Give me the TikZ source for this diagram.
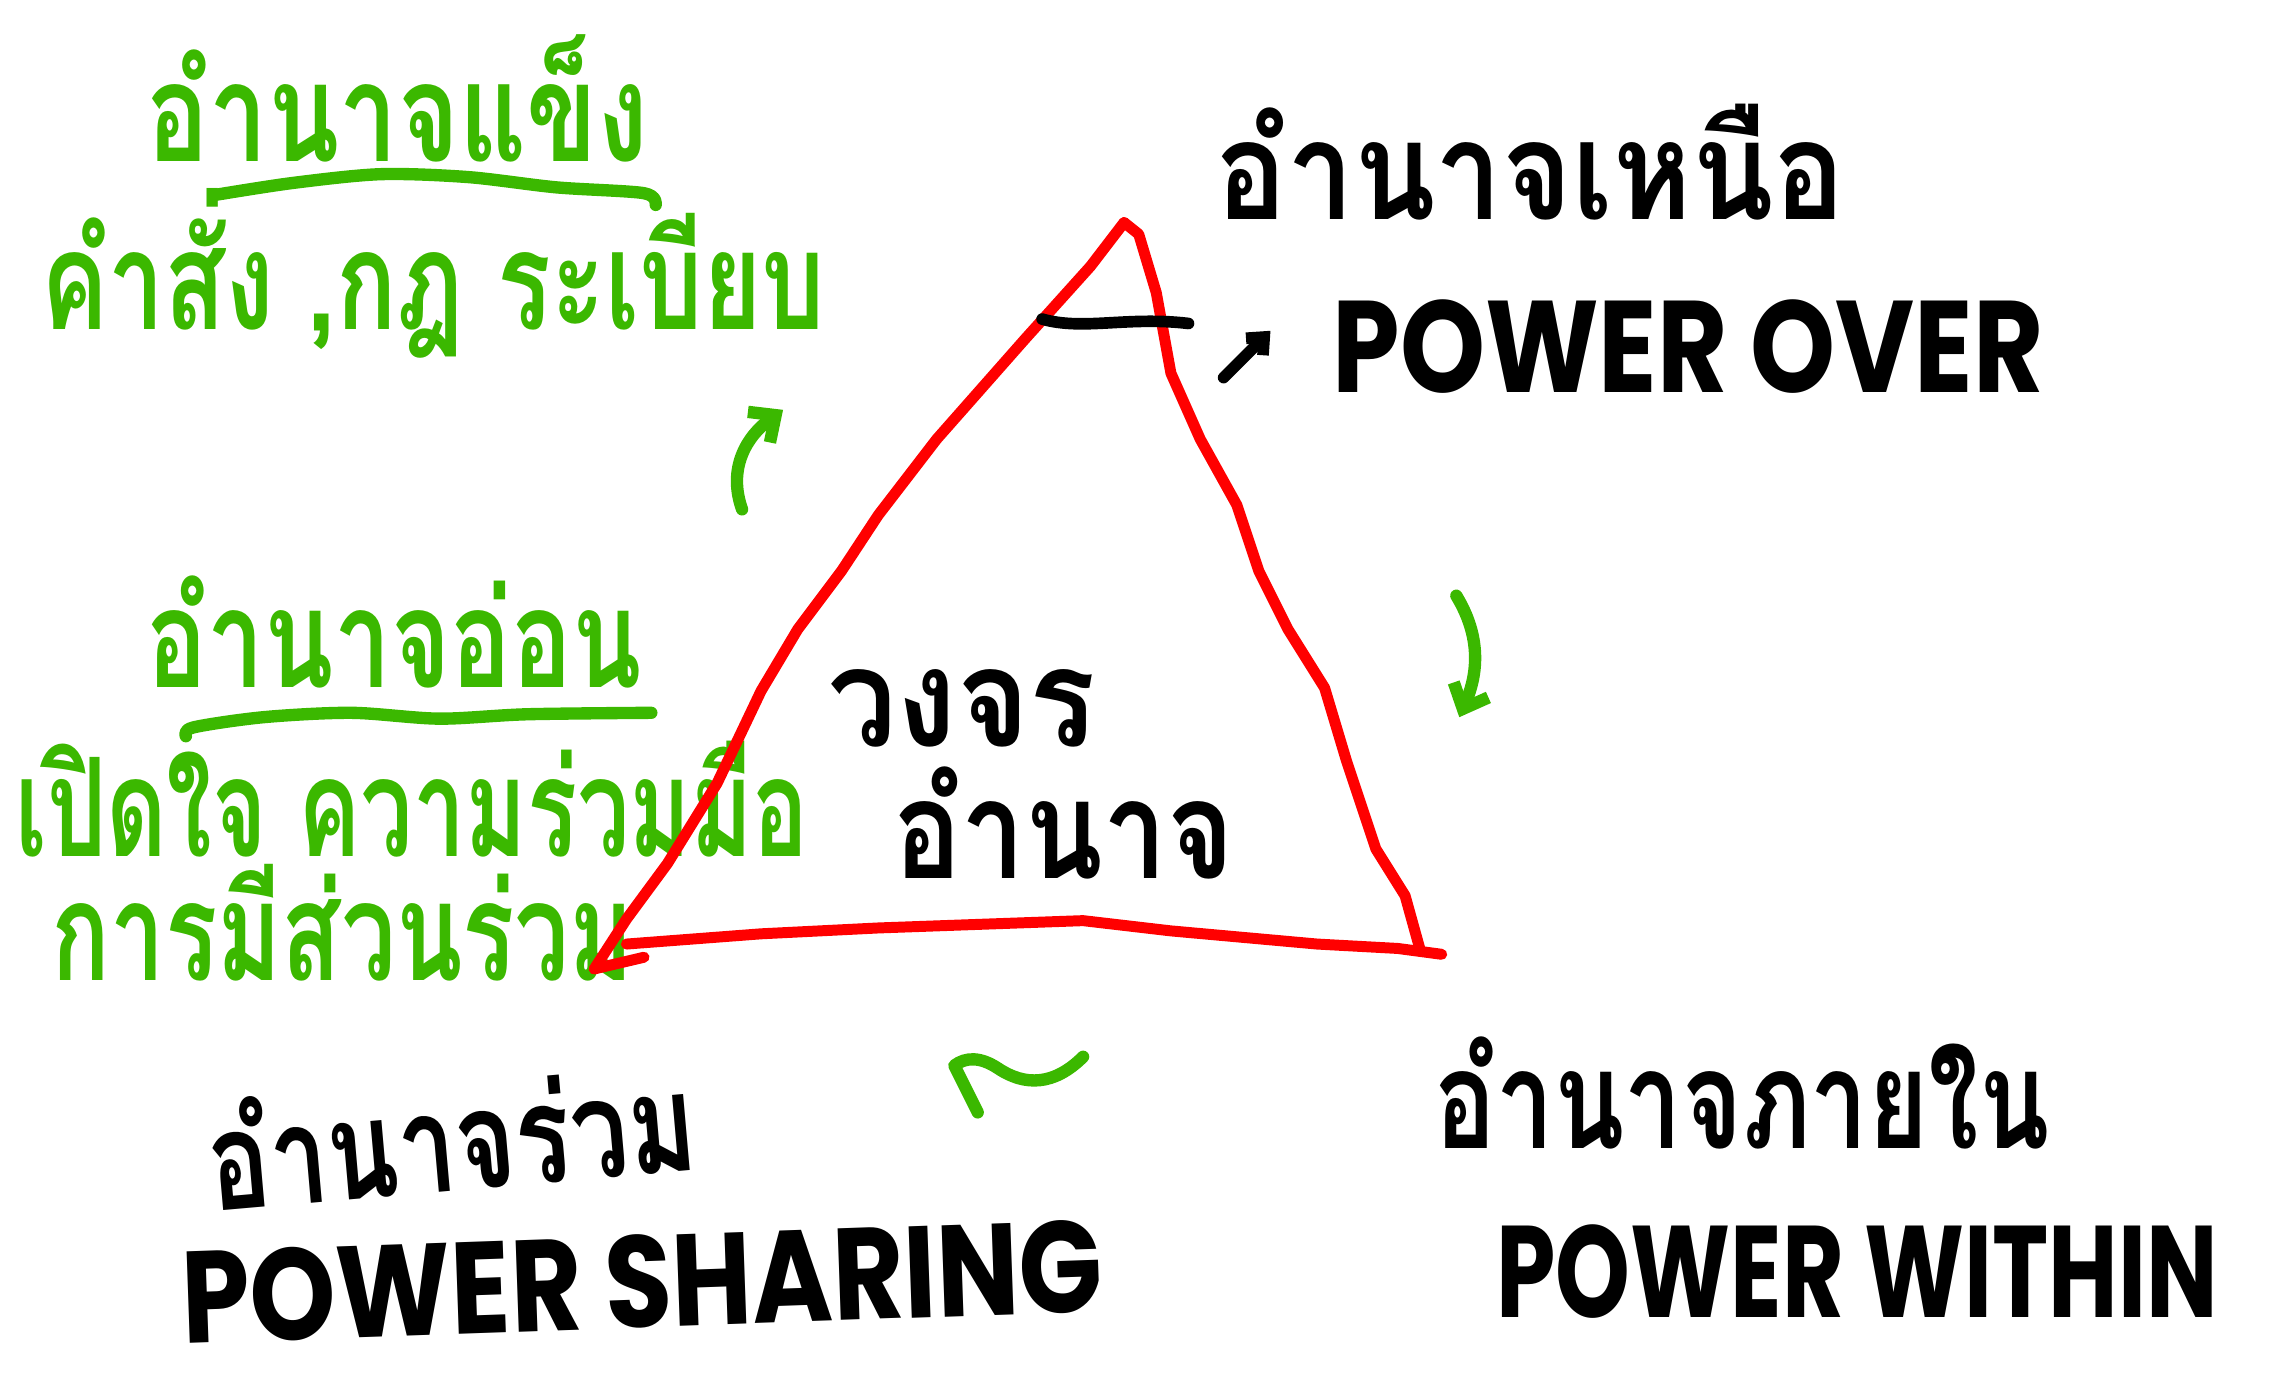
\documentclass[tikz,border=0pt]{standalone}
\usepackage{fontspec}
\setmainfont{Poppins}
\newfontfamily\thaifont[Script=Thai]{Loma}
\usetikzlibrary{arrows.meta}
\definecolor{handgreen}{RGB}{59,184,0}
\definecolor{handred}{RGB}{255,0,0}

\begin{document}
\begin{tikzpicture}[
	x=0.015cm, y=-0.015cm,
	thai/.style={ font=\thaifont\bfseries\fontsize{40}{40}\selectfont, anchor=base west, inner sep=0pt, text depth=0pt },
	eng/.style={ font=\bfseries\fontsize{38}{38}\selectfont, anchor=base west, inner sep=0pt, text depth=0pt },
	greentext/.style={ thai, text=handgreen },
	pen/.style={ line width=3.2pt, line cap=round, line join=round },
	redpen/.style={ pen, draw=handred },
	greenpen/.style={ pen, draw=handgreen, line width=3.6pt },
	inkpen/.style={ pen, draw=black, line width=3.4pt },
]
\useasboundingbox (0,0) rectangle (1568,952);

% corner labels
\node at (830,150) (over) [thai, xscale=0.87] {อำนาจเหนือ};
\node at (910,268) (overen) [eng, xscale=0.83] {POWER OVER};
\node at (980,785) (within) [thai, xscale=0.75] {อำนาจภายใน};
\node at (1022,900) (withinen) [eng, xscale=0.73] {POWER WITHIN};
\node at (145,828) (share) [thai, rotate=5, xscale=0.75] {อำนาจร่วม};
\node at (125,918) (shareen) [eng, rotate=2, xscale=0.84] {POWER SHARING};

% middle of the cycle
\node at (565,510) (cycle) [thai, xscale=0.9] {วงจร};
\node at (610,600) (cyclepow) [thai, xscale=0.83] {อำนาจ};

% hard and soft power notes
\node at (100,110) (hard) [greentext, xscale=0.76] {อำนาจแข็ง};
\node at (28,225) (hardsub) [greentext, xscale=0.73] {คำสั่ง ,กฎ ระเบียบ};
\node at (100,470) (softpow) [greentext, xscale=0.74] {อำนาจอ่อน};
\node at (10,585) (softsub) [greentext, xscale=0.68] {เปิดใจ ความร่วมมือ};
\node at (35,670) (softsub2) [greentext, xscale=0.71] {การมีส่วนร่วม};

\draw[greenpen] plot[smooth] coordinates {(148,133) (200,125) (260,119) (320,121) (380,128) (440,132) (448,140)};
\draw[greenpen] plot[smooth] coordinates {(127,503) (132,497) (180,490) (240,487) (300,491) (360,488) (445,487)};

% the triangle
\coordinate (apex) at (768,152);
\coordinate (bl) at (406,662);
\coordinate (br) at (985,652);
\draw[redpen] (apex) -- (745,182) -- (700,232) -- (640,300) -- (600,352) -- (575,390) -- (545,430) -- (520,472) -- (490,535) -- (456,590) -- (428,628) -- (bl);
\draw[redpen] (bl) -- (440,654);
\draw[redpen] (428,645) -- (520,638) -- (600,634) -- (740,629) -- (800,636) -- (900,645) -- (955,648) -- (br);
\draw[redpen] (apex) -- (778,160) -- (790,200) -- (800,255) -- (820,300) -- (845,345) -- (860,390) -- (880,430) -- (905,470) -- (920,520) -- (940,580) -- (960,612) -- (970,648);

% mark at the top and the arrow to power over
\coordinate (cut1) at (712,218);
\coordinate (cut2) at (812,221);
\draw[inkpen] (cut1) .. controls (740,226) and (770,216) .. (cut2);
\coordinate (ov1) at (836,258);
\coordinate (ov2) at (868,226);
\draw[inkpen, -{Straight Barb[length=4pt,width=7pt]}] (ov1) -- (ov2);

% green arrows round the cycle
\coordinate (up1) at (507,348);
\coordinate (up2) at (535,280);
\draw[greenpen, -{Straight Barb[length=6pt,width=11pt]}] (up1) .. controls (497,320) and (510,298) .. (up2);
\coordinate (dn1) at (995,407);
\coordinate (dn2) at (997,490);
\draw[greenpen, -{Straight Barb[length=6pt,width=11pt]}] (dn1) .. controls (1012,435) and (1010,460) .. (dn2);
\coordinate (lf1) at (740,722);
\coordinate (lf2) at (668,760);
\draw[greenpen] (lf1) .. controls (720,742) and (700,742) .. (682,730) .. controls (670,722) and (660,722) .. (652,728) -- (lf2);

\end{tikzpicture}
\end{document}
